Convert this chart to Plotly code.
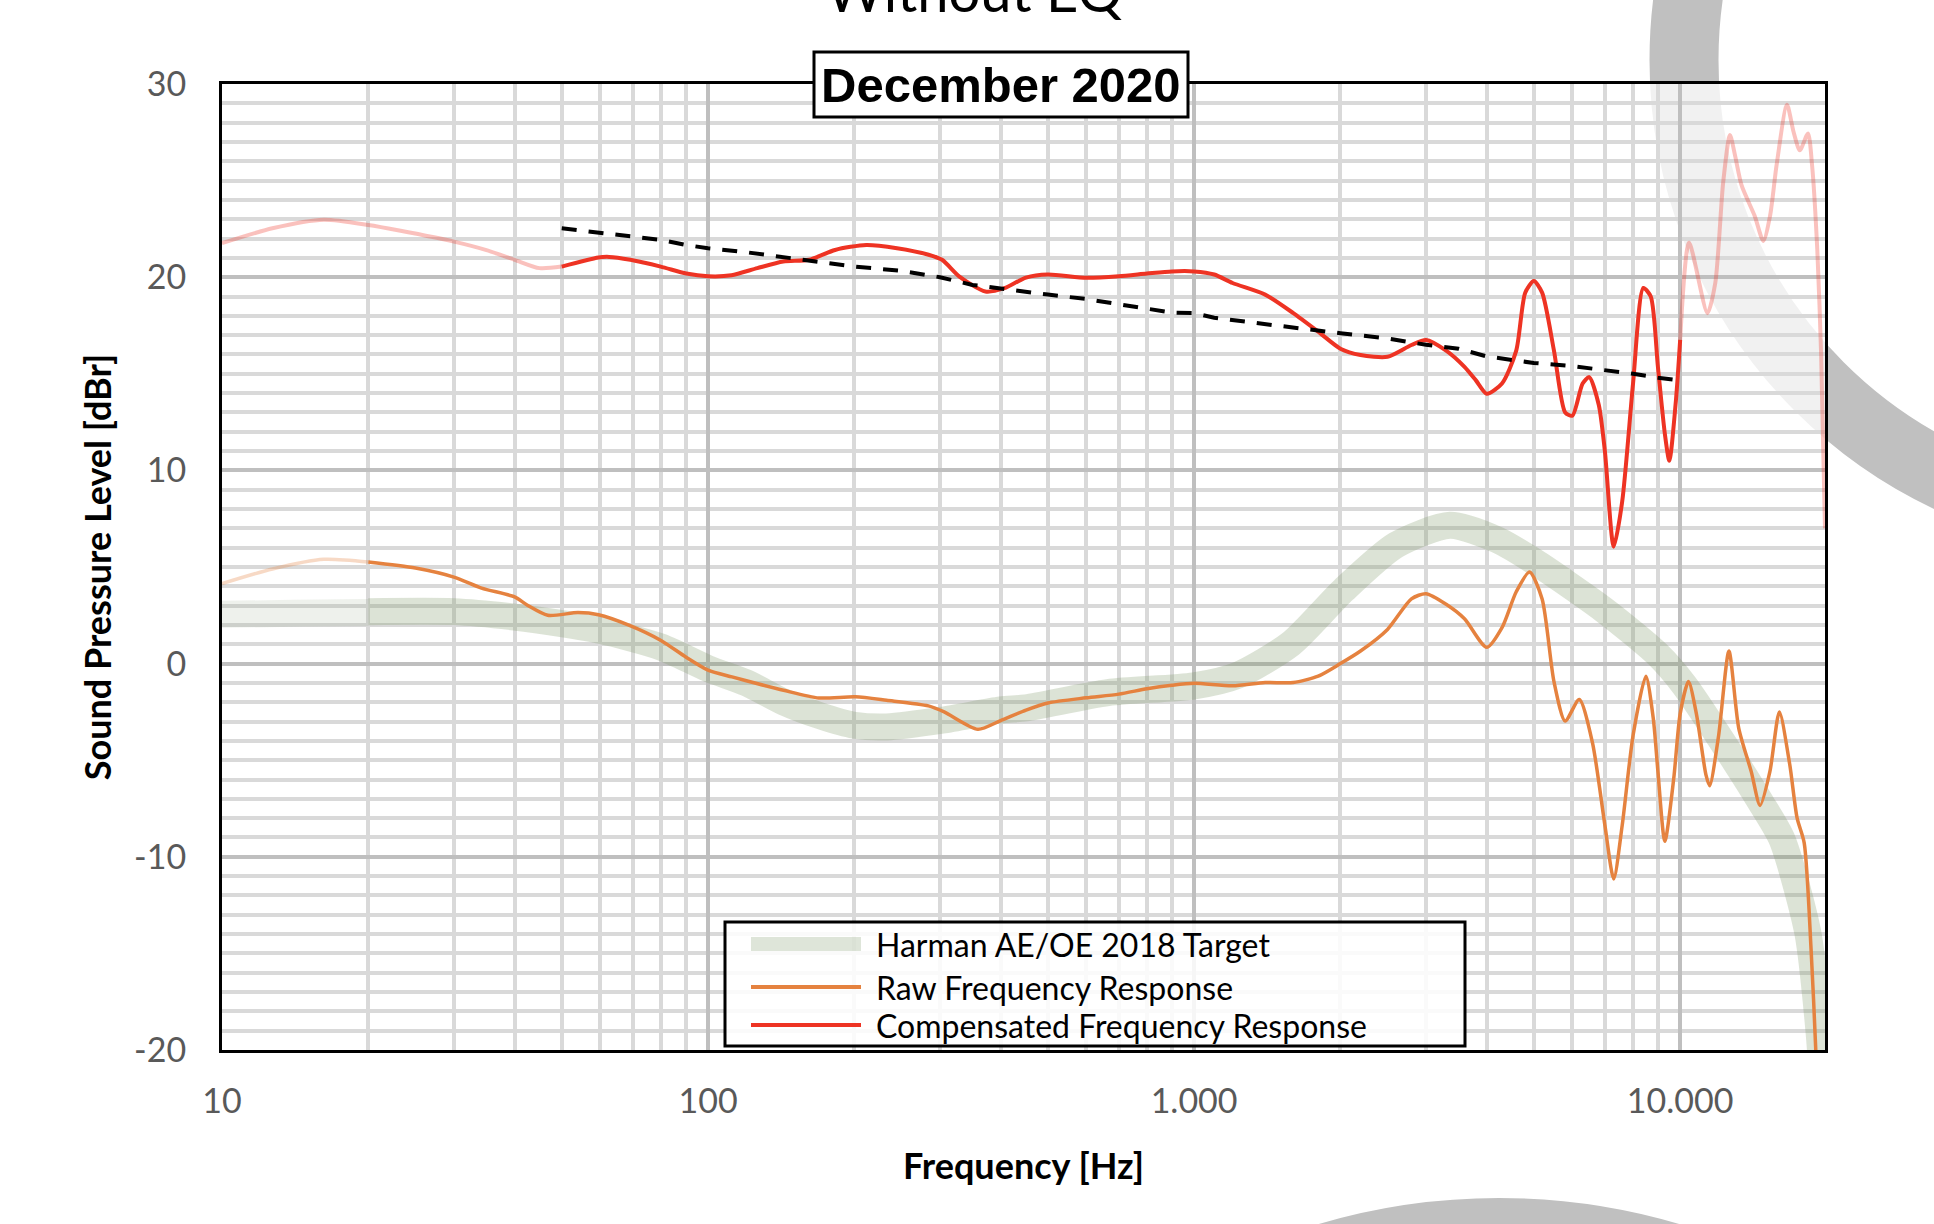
import plotly.graph_objects as go

# ---------------- data ----------------
# Harman AE/OE 2018 target (faded 10-20 Hz, solid above)
target_f_lo = [10, 14, 20]
target_db_lo = [2.55, 2.6, 2.65]
target_f = [20, 30, 40, 50, 60, 80, 100, 120, 143, 170, 200, 233, 303, 400, 451, 665, 1000, 1230,
            1580, 2030, 2600, 3360, 4200, 5000, 6960, 9000, 10200, 13000, 14700, 16200, 18300,
            19300, 19900]
target_db = [2.69, 2.69, 2.41, 2.07, 1.72, 0.86, -0.26, -1.0, -1.98, -2.7, -3.19, -3.28, -2.93,
             -2.4, -2.29, -1.5, -1.15, -0.6, 1.02, 3.81, 6.13, 7.16, 6.41, 5.3, 2.79, 0.46, -1.12,
             -5.1, -7.25, -9.1, -13.9, -19.0, -24.0]

# Raw frequency response
raw_f_lo = [10, 12.7, 16.2, 20]
raw_db_lo = [4.14, 4.9, 5.4, 5.26]
raw_f = [20, 25, 30, 34.2, 40, 42.5, 46.8, 54, 59.5, 68.9, 80, 90, 100, 112, 126, 143, 169, 201,
         233, 284, 306, 359, 400, 451, 500, 600, 700, 800, 900, 1000, 1200, 1400, 1600, 1800,
         2000, 2200, 2500, 2800, 3000, 3300, 3600, 4000, 4300, 4600, 4900, 5200, 5500, 5800,
         6200, 6600, 7000, 7300, 7600, 8000, 8500, 8800, 9000, 9300, 9700, 10000, 10400, 10800,
         11300, 11500, 12000, 12600, 13200, 14000, 14600, 15300, 16000, 16800, 17400, 18000,
         18600, 19000, 19300]
raw_db = [5.26, 4.95, 4.48, 3.91, 3.45, 3.02, 2.5, 2.64, 2.53, 1.98, 1.2, 0.34, -0.34, -0.69,
          -1.03, -1.38, -1.78, -1.72, -1.9, -2.19, -2.5, -3.4, -2.95, -2.41, -2.04, -1.77, -1.58,
          -1.3, -1.12, -1.02, -1.15, -0.98, -0.98, -0.65, 0.0, 0.65, 1.77, 3.35, 3.62, 3.07, 2.32,
          0.84, 1.86, 3.72, 4.74, 3.35, -0.93, -2.97, -1.86, -4.09, -8.36, -11.15, -8.36, -3.72,
          -0.65, -2.79, -5.58, -9.2, -5.95, -2.6, -0.93, -2.6, -5.76, -6.32, -3.72, 0.65, -3.35,
          -5.58, -7.34, -5.58, -2.51, -5.2, -7.99, -9.29, -14.87, -19.85, -25.0]

# Compensated frequency response
comp_f_lo = [10, 12.7, 16.2, 20, 23.3, 30, 35, 40, 45, 50]
comp_db_lo = [21.76, 22.53, 22.97, 22.7, 22.4, 21.84, 21.4, 20.9, 20.47, 20.55]
comp_f = [50, 59.5, 62.6, 69.2, 79.9, 90.2, 100, 111.7, 126.3, 142.8, 161.4, 182.5, 211.6, 244.8,
          284.2, 303, 329, 372, 407, 451, 500, 600, 700, 800, 900, 1000, 1100, 1200, 1400, 1600,
          1800, 2000, 2200, 2500, 2800, 3000, 3300, 3600, 3800, 4000, 4300, 4600, 4800, 5000,
          5200, 5500, 5800, 6000, 6300, 6500, 6800, 7000, 7300, 7600, 8000, 8400, 8700, 9000,
          9300, 9500, 9800, 10000]
comp_db = [20.55, 21.02, 21.05, 20.9, 20.55, 20.19, 20.05, 20.1, 20.47, 20.81, 20.9, 21.41, 21.67,
           21.5, 21.16, 20.9, 20.03, 19.26, 19.43, 19.98, 20.14, 19.97, 20.05, 20.19, 20.3, 20.3,
           20.14, 19.7, 19.1, 18.14, 17.18, 16.3, 15.97, 15.88, 16.49, 16.75, 16.2, 15.36, 14.66,
           13.97, 14.5, 16.2, 19.2, 19.8, 19.2, 16.2, 13.0, 12.83, 14.5, 14.83, 13.4, 11.0, 6.05,
           8.4, 14.5, 19.44, 19.0, 15.36, 11.9, 10.5, 13.6, 16.75]
comp_f_hi = [10000, 10430, 11380, 11810, 12260, 12660, 12970, 13380, 14230, 14830, 15310, 15790,
             16590, 17120, 17630, 18320, 18680, 19150, 19500, 19860]
comp_db_hi = [16.75, 21.79, 18.14, 19.7, 24.9, 27.36, 26.3, 24.75, 23.18, 21.88, 23.18, 25.8,
              28.92, 27.5, 26.57, 27.44, 25.8, 21.4, 16.0, 7.0]

# Trend (dashed)
trend_f = [50, 60, 70, 80, 90, 100, 120, 150, 200, 250, 300, 350, 420, 500, 600, 700, 800, 900,
           1000, 1100, 1300, 1500, 2000, 2500, 3000, 3500, 4000, 4500, 5000, 6000, 7000, 8000,
           9000, 10000]
trend_db = [22.53, 22.31, 22.1, 21.93, 21.67, 21.5, 21.29, 20.98, 20.55, 20.33, 20.0, 19.6, 19.32,
            19.1, 18.87, 18.63, 18.37, 18.17, 18.14, 17.9, 17.7, 17.48, 17.1, 16.83, 16.5, 16.3,
            15.9, 15.7, 15.56, 15.4, 15.2, 15.0, 14.8, 14.66]

x_tickvals = [10, 100, 1000, 10000]
x_ticktext = ["10", "100", "1.000", "10.000"]
x_minor = [m * d for d in (10, 100, 1000) for m in range(2, 10)] + [20000]
y_tickvals = [-20, -10, 0, 10, 20, 30]
y_ticktext = ["-20", "-10", "0", "10", "20", "30"]

legend_labels = ["Harman AE/OE 2018 Target", "Raw Frequency Response",
                 "Compensated Frequency Response"]

GREEN = "rgba(125,150,105,0.27)"
GREEN_FADE = "rgba(125,150,105,0.13)"
ORANGE = "#E5823F"
ORANGE_FADE = "rgba(229,130,63,0.3)"
RED = "#EE3323"
RED_FADE = "rgba(238,51,35,0.3)"

fig = go.Figure()
sm = 0.7
fig.add_trace(go.Scatter(x=target_f_lo, y=target_db_lo, mode="lines",
                         line=dict(color=GREEN_FADE, width=27, shape="spline", smoothing=sm),
                         showlegend=False, hoverinfo="skip"))
fig.add_trace(go.Scatter(x=target_f, y=target_db, mode="lines",
                         line=dict(color=GREEN, width=27, shape="spline", smoothing=sm),
                         showlegend=False, hoverinfo="skip"))
fig.add_trace(go.Scatter(x=raw_f_lo, y=raw_db_lo, mode="lines",
                         line=dict(color=ORANGE_FADE, width=3.5, shape="spline", smoothing=sm),
                         showlegend=False))
fig.add_trace(go.Scatter(x=raw_f, y=raw_db, mode="lines",
                         line=dict(color=ORANGE, width=3.5, shape="spline", smoothing=sm),
                         showlegend=False))
fig.add_trace(go.Scatter(x=comp_f_lo, y=comp_db_lo, mode="lines",
                         line=dict(color=RED_FADE, width=4, shape="spline", smoothing=sm),
                         showlegend=False))
fig.add_trace(go.Scatter(x=comp_f_hi, y=comp_db_hi, mode="lines",
                         line=dict(color=RED_FADE, width=4, shape="spline", smoothing=sm),
                         showlegend=False))
fig.add_trace(go.Scatter(x=comp_f, y=comp_db, mode="lines",
                         line=dict(color=RED, width=4, shape="spline", smoothing=sm),
                         showlegend=False))
fig.add_trace(go.Scatter(x=trend_f, y=trend_db, mode="lines",
                         line=dict(color="black", width=4, dash="15px,12px"),
                         showlegend=False))

W, H = 1934, 1224
L, R, T, B = 222, 109, 84, 174
PW, PH = W - L - R, H - T - B


def px(x):
    return (x - L) / PW


def py(y):
    return (H - B - y) / PH


shapes = []
# watermark rings
cx, cy, r = 2146, 60, 462
shapes.append(dict(type="circle", xref="paper", yref="paper", layer="below",
                   x0=px(cx - r), x1=px(cx + r), y0=py(cy + r), y1=py(cy - r),
                   line=dict(color="#c0c0c0", width=69)))
cx, cy, r = 1499, 1834, 596
shapes.append(dict(type="circle", xref="paper", yref="paper", layer="below",
                   x0=px(cx - r), x1=px(cx + r), y0=py(cy + r), y1=py(cy - r),
                   line=dict(color="#c0c0c0", width=80)))
# plot-area veil
shapes.append(dict(type="rect", xref="paper", yref="paper", layer="below",
                   x0=0, x1=1, y0=0, y1=1, fillcolor="rgba(255,255,255,0.78)",
                   line=dict(width=0)))
# December box
shapes.append(dict(type="rect", xref="paper", yref="paper", layer="above",
                   x0=px(814), x1=px(1188), y0=py(117), y1=py(52), fillcolor="white",
                   line=dict(color="black", width=3)))
# legend box
shapes.append(dict(type="rect", xref="paper", yref="paper", layer="above",
                   x0=px(725), x1=px(1465), y0=py(1046), y1=py(922),
                   fillcolor="rgba(255,255,255,0.85)", line=dict(color="black", width=3)))
rows = [944, 987, 1025]
sym = [("rgba(125,150,105,0.25)", 14), (ORANGE, 4), (RED, 4)]
for (c, w), yy in zip(sym, rows):
    shapes.append(dict(type="line", xref="paper", yref="paper", layer="above",
                       x0=px(751), x1=px(861), y0=py(yy), y1=py(yy),
                       line=dict(color=c, width=w)))

annotations = []
annotations.append(dict(text="<b>December 2020</b>", xref="paper", yref="paper",
                        x=px(1001), y=py(85), showarrow=False, xanchor="center",
                        yanchor="middle",
                        font=dict(family="Liberation Sans, Arial", size=49, color="black")))
for lab, yy in zip(legend_labels, rows):
    annotations.append(dict(text=lab, xref="paper", yref="paper", x=px(874), y=py(yy),
                            showarrow=False, xanchor="left", yanchor="middle",
                            font=dict(family="Lato", size=32, color="black")))
annotations.append(dict(text="Without EQ", xref="paper", yref="paper", x=px(974), y=py(26),
                        showarrow=False, xanchor="center", yanchor="bottom",
                        font=dict(family="Lato", size=56, color="black")))

fig.update_layout(
    width=W, height=H,
    margin=dict(l=L, r=R, t=T, b=B, pad=0),
    paper_bgcolor="white", plot_bgcolor="rgba(0,0,0,0)",
    showlegend=False,
    shapes=shapes, annotations=annotations,
    xaxis=dict(type="log", range=[1, 4.298], tickmode="array", tickvals=x_tickvals,
               ticktext=x_ticktext, showgrid=True, gridcolor="#bfbfbf", gridwidth=3.5,
               minor=dict(tickmode="array", tickvals=x_minor, showgrid=True,
                          gridcolor="#d9d9d9", gridwidth=3.5),
               showline=True, linecolor="black", linewidth=3, mirror=True,
               ticks="outside", ticklen=19, tickcolor="rgba(0,0,0,0)",
               tickfont=dict(family="Lato", size=34, color="#595959"),
               zeroline=False,
               title=dict(text="<b>Frequency [Hz]</b>", standoff=36,
                          font=dict(family="Lato", size=36, color="black"))),
    yaxis=dict(range=[-20, 30], tickmode="array", tickvals=y_tickvals, ticktext=y_ticktext,
               showgrid=True, gridcolor="#bfbfbf", gridwidth=3.5,
               minor=dict(dtick=1, showgrid=True, gridcolor="#d9d9d9", gridwidth=3.5),
               showline=True, linecolor="black", linewidth=3, mirror=True,
               ticks="outside", ticklen=26, tickcolor="rgba(0,0,0,0)",
               tickfont=dict(family="Lato", size=34, color="#595959"),
               zeroline=False,
               title=dict(text="<b>Sound Pressure Level [dBr]</b>", standoff=12,
                          font=dict(family="Lato", size=36, color="black"))),
)

fig.write_html("out.html", config={"displayModeBar": False},
               post_script="document.body.style.margin='0px';document.body.style.overflow='hidden';")
